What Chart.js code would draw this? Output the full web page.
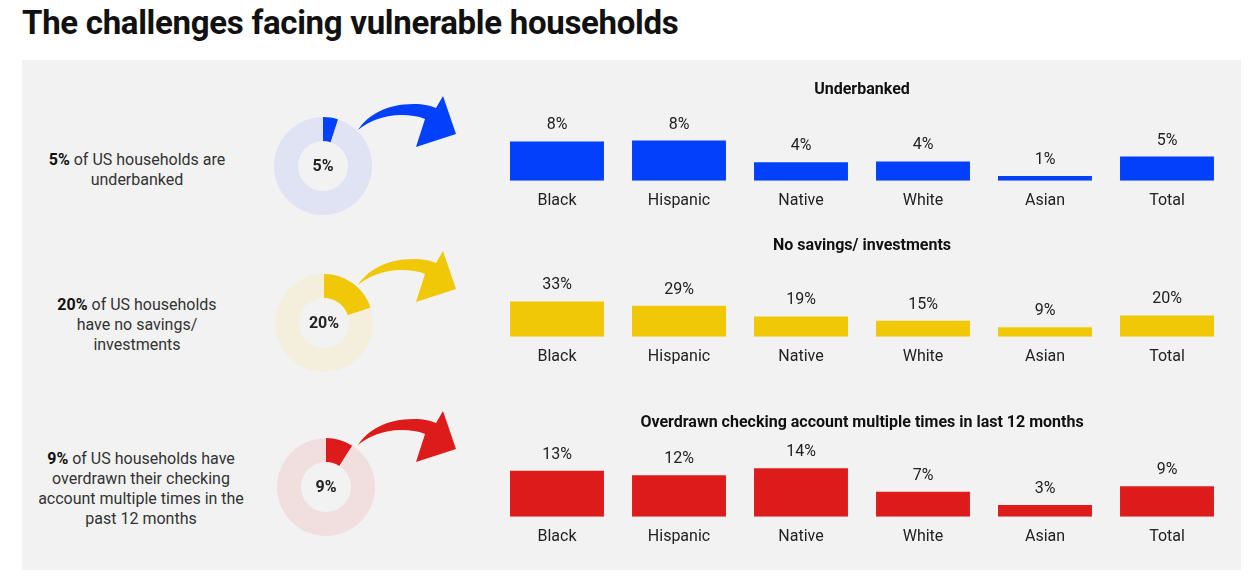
<!DOCTYPE html>
<html>
<head>
<meta charset="utf-8">
<script src="https://cdn.jsdelivr.net/npm/chart.js@4.4.1/dist/chart.umd.min.js"></script>
<style>
  body { margin: 0; background: #fff; font-family: Roboto, sans-serif; width: 1258px; height: 581px; position: relative; overflow: hidden; }
  h1 { position: absolute; left: 22px; top: 3px; margin: 0; font-size: 33px; font-weight: 700; color: #111; letter-spacing: -0.3px; }
  .panel { position: absolute; left: 22px; top: 60px; width: 1219px; height: 510px; background: #f2f2f2; }
  .note { position: absolute; width: 260px; text-align: center; font-size: 16px; line-height: 20px; color: #333; }
  .note b { color: #111; }
  canvas { position: absolute; }
  svg.arrow { position: absolute; overflow: visible; }
</style>
</head>
<body>
<h1>The challenges facing vulnerable households</h1>
<div class="panel"></div>

<div class="note" style="left:7px; top:150px;"><b>5%</b> of US households are<br>underbanked</div>
<div class="note" style="left:7px; top:295px;"><b>20%</b> of US households<br>have no savings/<br>investments</div>
<div class="note" style="left:11px; top:449px;"><b>9%</b> of US households have<br>overdrawn their checking<br>account multiple times in the<br>past 12 months</div>

<canvas id="donut0" width="100" height="100" style="left:273px; top:116px;"></canvas>
<canvas id="donut1" width="100" height="100" style="left:274px; top:273px;"></canvas>
<canvas id="donut2" width="100" height="100" style="left:276px; top:437px;"></canvas>

<svg class="arrow" style="left:358px; top:130px;" width="1" height="1"><path id="a0" /></svg>
<svg class="arrow" style="left:358px; top:285px;" width="1" height="1"><path id="a1" /></svg>
<svg class="arrow" style="left:358px; top:445px;" width="1" height="1"><path id="a2" /></svg>

<canvas id="bars0" width="732" height="150" style="left:496px; top:72px;"></canvas>
<canvas id="bars1" width="732" height="150" style="left:496px; top:228px;"></canvas>
<canvas id="bars2" width="732" height="153" style="left:496px; top:405px;"></canvas>

<script>
const categories = ['Black', 'Hispanic', 'Native', 'White', 'Asian', 'Total'];

const underbanked = [8.1, 8.3, 3.8, 4.0, 1.0, 5.0];
const noSavings = [33, 29, 19, 15, 9, 20];
const overdrawn = [13.4, 12.1, 14.1, 7.3, 3.4, 8.9];

const barTitles = ['Underbanked', 'No savings/ investments', 'Overdrawn checking account multiple times in last 12 months'];
const donutShares = [5, 20, 9];
const yMax = [13.1, 59.4, 18.5];

const mainColors = ['#0340fb', '#f0c808', '#de1b1b'];
const lightColors = ['#dfe3f4', '#f4efdc', '#f1dfdf'];

const arrowPath = 'M0,0 C10,-15 28,-26 56,-26 C66,-26 73,-24 78,-22 L85,-34 L98,4 L58,17 L67,-11 C60,-14 52,-15 44,-15 C24,-15 10,-8 0,0 Z';

const valueLabels = {
    id: 'valueLabels',
    afterDatasetsDraw(chart) {
        const ctx = chart.ctx;
        const meta = chart.getDatasetMeta(0);
        ctx.save();
        ctx.font = '16px Roboto';
        ctx.fillStyle = '#222';
        ctx.textAlign = 'center';
        ctx.textBaseline = 'middle';
        meta.data.forEach((bar, i) => {
            const v = chart.data.datasets[0].data[i];
            ctx.fillText(Math.round(v) + '%', bar.x, bar.y - 16);
        });
        ctx.restore();
    }
};

const centerText = {
    id: 'centerText',
    afterDraw(chart) {
        const ctx = chart.ctx;
        const arc = chart.getDatasetMeta(0).data[0];
        ctx.save();
        ctx.font = 'bold 16px Roboto';
        ctx.fillStyle = '#222';
        ctx.textAlign = 'center';
        ctx.textBaseline = 'middle';
        ctx.fillText(chart.data.datasets[0].data[0] + '%', arc.x, arc.y + 1);
        ctx.restore();
    }
};

const seriesList = [underbanked, noSavings, overdrawn];

seriesList.forEach((serie, k) => {
    new Chart(document.getElementById('bars' + k), {
        type: 'bar',
        data: {
            labels: categories,
            datasets: [{
                data: serie,
                backgroundColor: mainColors[k],
                barPercentage: 0.77,
                categoryPercentage: 1
            }]
        },
        options: {
            responsive: false,
            animation: false,
            layout: { padding: 0 },
            plugins: {
                legend: { display: false },
                tooltip: { enabled: false },
                title: {
                    display: true,
                    text: barTitles[k],
                    color: '#111',
                    font: { family: 'Roboto', size: 16, weight: 'bold' },
                    padding: { top: 8, bottom: k == 2 ? 21 : 18 }
                }
            },
            scales: {
                x: {
                    grid: { display: false, drawTicks: false },
                    border: { display: false },
                    ticks: { color: '#222', font: { family: 'Roboto', size: 16 }, padding: 11 }
                },
                y: { display: false, min: 0, max: yMax[k] }
            }
        },
        plugins: [valueLabels]
    });

    new Chart(document.getElementById('donut' + k), {
        type: 'doughnut',
        data: {
            labels: ['share', 'rest'],
            datasets: [{
                data: [donutShares[k], 100 - donutShares[k]],
                backgroundColor: [mainColors[k], lightColors[k]],
                borderWidth: 0
            }]
        },
        options: {
            responsive: false,
            animation: false,
            cutout: '51%',
            layout: { padding: 1 },
            plugins: { legend: { display: false }, tooltip: { enabled: false } }
        },
        plugins: [centerText]
    });

    const p = document.getElementById('a' + k);
    p.setAttribute('d', arrowPath);
    p.setAttribute('fill', mainColors[k]);
});
</script>
</body>
</html>
